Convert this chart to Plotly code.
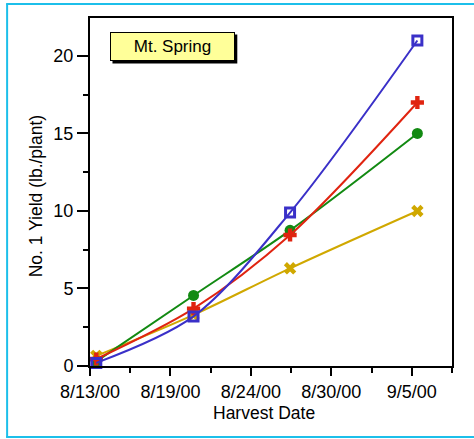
import plotly.graph_objects as go

# ---- data ----
harvest_day = [0.45, 7.4, 14.3, 23.4]          # days after 8/13/00
blue_vals   = [0.2, 3.2, 9.9, 21.0]
red_vals    = [0.45, 3.7, 8.45, 17.0]
green_vals  = [0.3, 4.55, 8.75, 15.0]
yellow_vals = [0.65, 3.3, 6.3, 10.0]
tick_labels = ["8/13/00", "8/19/00", "8/24/00", "8/30/00", "9/5/00"]
TICK_STEP = 5.75  # days between labelled ticks

W, H = 474, 439
L, R, T, B = 90, 21.5, 18, 72.5
pw, ph = W - L - R, H - T - B


def px(x):
    return (x - L) / pw


def py(y):
    return 1 - (y - T) / ph


series = [
    (blue_vals, "#3a30c8", dict(symbol="square-open", size=9, line=dict(width=3, color="#3a30c8"))),
    (red_vals, "#e02410", dict(symbol="cross", size=11)),
    (green_vals, "#128a12", dict(symbol="circle", size=11)),
    (yellow_vals, "#d0a800", dict(symbol="x", size=11)),
]

fig = go.Figure()
for vals, col, mk in [series[3], series[2], series[1], series[0]]:
    mk = dict(mk)
    mk.setdefault("color", col)
    fig.add_trace(go.Scatter(
        x=harvest_day, y=vals, mode="lines+markers",
        line=dict(color=col, width=2, shape="spline", smoothing=0.9),
        marker=mk, showlegend=False, cliponaxis=False, hoverinfo="skip"))

tickvals = [i * TICK_STEP for i in range(len(tick_labels))]
minorvals = [(i + 0.5) * TICK_STEP for i in range(len(tick_labels))]

font = "Liberation Sans, Arial, Helvetica, sans-serif"
fig.update_layout(
    width=W, height=H,
    margin=dict(l=L, r=R, t=T, b=B, autoexpand=False),
    paper_bgcolor="white", plot_bgcolor="white",
    font=dict(family=font, color="black", size=17),
    xaxis=dict(
        range=[0, 4.5 * TICK_STEP], tickmode="array", tickvals=tickvals, ticktext=tick_labels,
        ticks="outside", ticklen=8, tickwidth=1.5, tickcolor="black",
        minor=dict(tickmode="array", tickvals=minorvals, ticks="outside", ticklen=5, tickwidth=1.5, tickcolor="black"),
        showline=True, linecolor="black", linewidth=2, mirror=True,
        showgrid=False, zeroline=False, automargin=False,
        tickfont=dict(size=18),
    ),
    yaxis=dict(
        range=[0, 22.45], tickmode="linear", tick0=0, dtick=5,
        ticks="outside", ticklen=11, tickwidth=1.5, tickcolor="black",
        minor=dict(dtick=2.5, ticks="outside", ticklen=5, tickwidth=1.5, tickcolor="black"),
        showline=True, linecolor="black", linewidth=2, mirror=True,
        showgrid=False, zeroline=False, automargin=False,
        tickfont=dict(size=18),
    ),
)

# axis titles
fig.add_annotation(text="Harvest Date", xref="paper", yref="paper",
                   x=px(264), y=py(414), xanchor="center", yanchor="middle",
                   showarrow=False, font=dict(size=17.5))
fig.add_annotation(text="No. 1 Yield (lb./plant)", xref="paper", yref="paper",
                   x=px(36), y=py(196.5), xanchor="center", yanchor="middle",
                   textangle=-90, showarrow=False, font=dict(size=17.5))

# title box with shadow
fig.add_shape(type="rect", xref="paper", yref="paper",
              x0=px(112.5), x1=px(237.5), y0=py(63.5), y1=py(34.5),
              fillcolor="black", line=dict(width=0), layer="above")
fig.add_annotation(text="Mt. Spring", xref="paper", yref="paper",
                   x=px(172.5), y=py(46.5), xanchor="center", yanchor="middle",
                   showarrow=False,
                   width=121, height=25, borderpad=1, borderwidth=1,
                   bordercolor="black", bgcolor="#ffff99",
                   font=dict(size=17, color="black"))

# cyan frame
cyan = "#1cbfea"
fig.add_shape(type="line", xref="paper", yref="paper",
              x0=px(7), x1=px(7), y0=py(4), y1=py(438), line=dict(color=cyan, width=2))
fig.add_shape(type="line", xref="paper", yref="paper",
              x0=px(6), x1=px(480), y0=py(4), y1=py(4), line=dict(color=cyan, width=2))
fig.add_shape(type="line", xref="paper", yref="paper",
              x0=px(6), x1=px(480), y0=py(437.5), y1=py(437.5), line=dict(color=cyan, width=2))

fig.write_html("out.html", config={"displayModeBar": False},
               post_script="document.body.style.margin='0';document.body.style.overflow='hidden';")
